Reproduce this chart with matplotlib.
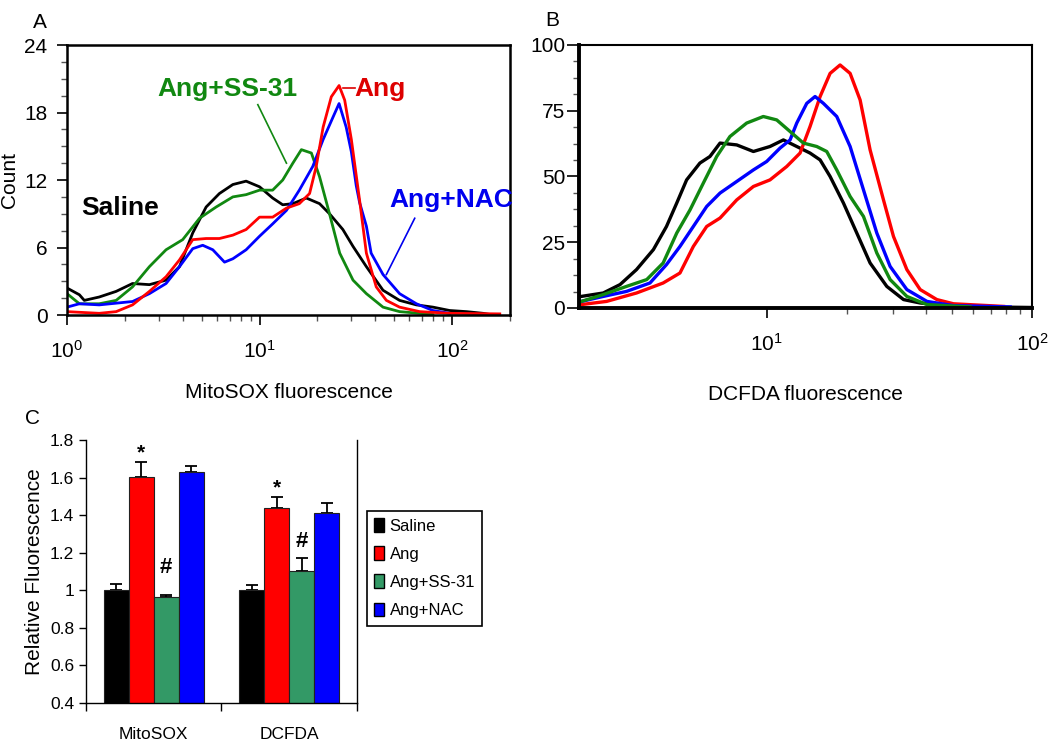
import math
import matplotlib
matplotlib.use('Agg')
import matplotlib.pyplot as plt
from matplotlib.ticker import FixedLocator, FuncFormatter, MultipleLocator, LogLocator, NullFormatter
from matplotlib.patches import Patch

plt.rcParams['font.family'] = ['Liberation Sans', 'DejaVu Sans']

# ---- panel A: MitoSOX histograms (fluorescence, count) ----
mito_saline_x = [1.0, 1.16, 1.23, 1.47, 1.8, 2.19, 2.68, 3.27, 3.84, 4.5, 5.28, 6.19, 7.27, 8.52, 10.0, 11.7,
                 13.2, 14.9, 17.5, 20.5, 23.1, 27.1, 30.6, 35.9, 43.8, 53.4, 65.3, 79.6, 97.2, 119, 145, 163]
mito_saline_y = [2.4, 1.8, 1.3, 1.6, 2.1, 2.8, 2.7, 3.1, 4.3, 7.3, 9.6, 10.8, 11.6, 11.9, 11.4, 10.4,
                 9.8, 9.9, 10.4, 9.9, 9.0, 7.6, 6.1, 4.3, 2.2, 1.3, 0.9, 0.7, 0.4, 0.3, 0.15, 0.0]
mito_ss31_x = [1.0, 1.16, 1.47, 1.8, 2.19, 2.68, 3.27, 3.99, 4.88, 5.95, 7.27, 8.52, 10.0, 11.7, 13.2,
               14.9, 16.5, 18.6, 20.5, 23.1, 26.1, 30.6, 35.9, 43.8, 53.4, 79.6]
mito_ss31_y = [1.9, 1.0, 1.0, 1.3, 2.5, 4.3, 5.8, 6.7, 8.6, 9.6, 10.5, 10.7, 11.1, 11.1, 12.0,
               13.5, 14.7, 14.4, 12.3, 9.0, 5.5, 3.1, 1.9, 0.7, 0.3, 0.05]
mito_nac_x = [1.0, 1.16, 1.47, 2.19, 2.68, 3.27, 3.84, 4.5, 5.07, 5.72, 6.58, 7.27, 8.52, 10.0, 11.7,
              13.8, 16.1, 18.9, 21.4, 24.1, 25.9, 28.2, 30.0, 31.8, 33.1, 35.9, 38.0, 43.8, 53.4, 65.3, 79.6, 97.2]
mito_nac_y = [0.7, 1.0, 0.9, 1.2, 1.9, 2.8, 4.3, 5.9, 6.2, 5.8, 4.7, 5.0, 5.8, 7.0, 8.1,
              9.3, 11.1, 13.2, 15.6, 17.6, 18.8, 16.7, 14.5, 11.5, 10.0, 7.9, 5.5, 3.6, 1.9, 1.0, 0.4, 0.15]
mito_ang_x = [1.0, 1.47, 1.8, 2.19, 2.68, 3.27, 3.84, 4.5, 5.28, 6.19, 7.27, 8.52, 10.0, 11.7, 13.8,
              16.1, 18.2, 19.7, 21.4, 23.6, 25.9, 27.7, 30.0, 33.1, 35.9, 40.4, 45.6, 53.4, 67.9, 97.2, 177]
mito_ang_y = [0.3, 0.15, 0.3, 0.9, 2.1, 3.4, 4.9, 6.7, 6.8, 6.8, 7.1, 7.6, 8.7, 8.7, 9.5,
              9.9, 10.8, 13.2, 16.7, 19.4, 20.4, 19.1, 15.6, 10.2, 5.5, 2.5, 1.3, 0.7, 0.3, 0.15, 0.1]

# ---- panel B: DCFDA histograms ----
dcf_saline_x = [2.0, 2.42, 2.8, 3.23, 3.74, 4.19, 4.58, 4.99, 5.6, 6.11, 6.67, 7.71, 8.91, 10.29, 11.56,
                12.98, 14.57, 15.9, 17.34, 19.47, 21.86, 24.54, 28.37, 32.8, 37.9, 50.6, 67.7, 98.6]
dcf_saline_y = [4.4, 5.7, 8.9, 14.6, 22.2, 31.0, 39.9, 48.7, 55.1, 57.6, 62.7, 62.0, 59.5, 61.4, 63.9,
                61.4, 58.9, 56.3, 50.0, 39.9, 28.5, 17.1, 8.2, 3.2, 1.9, 0.6, 0.4, 0.2]
dcf_ang_x = [2.0, 2.49, 3.23, 4.07, 4.71, 5.29, 5.94, 6.67, 7.71, 8.91, 10.29, 11.9, 13.36, 14.57,
             15.9, 17.34, 18.91, 20.63, 22.5, 24.54, 27.56, 30.06, 33.76, 37.9, 43.8, 50.6, 78.2]
dcf_ang_y = [1.3, 2.5, 5.7, 9.5, 13.3, 23.4, 31.0, 34.2, 41.1, 46.2, 48.7, 53.8, 58.9, 69.0,
             80.4, 89.2, 92.4, 89.2, 79.1, 60.1, 41.1, 27.2, 14.6, 7.0, 3.2, 1.6, 0.6]
dcf_nac_x = [2.0, 2.42, 2.96, 3.63, 4.19, 4.71, 5.29, 5.94, 6.67, 7.71, 8.91, 10.0, 11.23, 12.25, 12.98,
             14.16, 15.22, 16.36, 18.37, 20.63, 23.17, 26.01, 29.2, 33.76, 40.2, 50.6, 82.8]
dcf_nac_y = [2.5, 4.4, 6.3, 9.5, 16.5, 23.4, 31.0, 38.6, 43.7, 48.1, 52.5, 55.7, 60.8, 63.9, 70.3,
             77.8, 80.4, 77.8, 72.8, 61.4, 44.9, 28.5, 15.8, 7.0, 2.5, 0.9, 0.4]
dcf_ss31_x = [2.0, 2.42, 2.96, 3.53, 4.07, 4.58, 5.14, 5.77, 6.48, 7.27, 8.4, 9.71, 10.91, 12.25, 13.75,
              15.44, 16.84, 18.37, 20.63, 23.17, 26.01, 29.2, 33.76, 40.2, 58.5]
dcf_ss31_y = [2.5, 5.1, 8.2, 10.8, 17.1, 28.5, 37.3, 47.5, 57.6, 65.2, 70.3, 72.8, 71.5, 67.1, 62.7,
              61.4, 59.5, 52.5, 42.4, 34.8, 20.9, 10.8, 4.4, 1.3, 0.4]

# ---- panel C: relative fluorescence bars ----
assays = ['MitoSOX', 'DCFDA']
groups = ['Saline', 'Ang', 'Ang+SS-31', 'Ang+NAC']
means = {'Saline': [1.0, 1.0], 'Ang': [1.605, 1.437], 'Ang+SS-31': [0.962, 1.105], 'Ang+NAC': [1.629, 1.41]}
errs = {'Saline': [0.035, 0.03], 'Ang': [0.076, 0.058], 'Ang+SS-31': [0.014, 0.066], 'Ang+NAC': [0.03, 0.057]}
bar_colors = ['#000000', '#ff0000', '#339966', '#0000ff']

line_colors = {'Saline': 'black', 'Ang': '#ff0000', 'Ang+SS-31': '#118811', 'Ang+NAC': '#0000ff'}

fig = plt.figure(figsize=(10.5, 7.47), dpi=100)


def pow_fmt(v, pos):
    e = int(round(math.log10(v)))
    return r'$\mathregular{10^{%d}}$' % e


def style_hist(ax):
    ax.set_xscale('log')
    ax.tick_params(which='major', direction='out', length=7, width=1.2, labelsize=15, pad=6)
    ax.tick_params(which='minor', direction='out', length=4, width=1.0, color='#555555')
    ax.tick_params(axis='x', which='major', pad=11)
    ax.xaxis.set_major_formatter(FuncFormatter(pow_fmt))
    ax.xaxis.set_minor_formatter(NullFormatter())


# ---- A ----
axA = fig.add_axes([0.0638, 0.5783, 0.4219, 0.3614])
axA.plot(mito_saline_x, mito_saline_y, color=line_colors['Saline'], lw=2.0)
axA.plot(mito_ss31_x, mito_ss31_y, color=line_colors['Ang+SS-31'], lw=2.0)
axA.plot(mito_nac_x, mito_nac_y, color=line_colors['Ang+NAC'], lw=2.0)
axA.plot(mito_ang_x, mito_ang_y, color=line_colors['Ang'], lw=2.0)
style_hist(axA)
axA.set_xlim(1, 200)
axA.set_ylim(0, 24)
axA.yaxis.set_major_locator(FixedLocator([0, 6, 12, 18, 24]))
axA.yaxis.set_minor_locator(MultipleLocator(1.5))
axA.xaxis.set_major_locator(FixedLocator([1, 10, 100]))
axA.xaxis.set_minor_locator(LogLocator(base=10, subs=range(2, 10)))
axA.tick_params(axis='y', which='major', pad=7)
for s in axA.spines.values():
    s.set_linewidth(1.8)
axA.set_ylabel('Count', fontsize=15, labelpad=4)
axA.set_xlabel('MitoSOX fluorescence', fontsize=15, labelpad=15)

axA.text(6.84, 20.1, 'Ang+SS-31', color='#118811', fontsize=19, fontweight='bold', ha='center', va='center')
axA.plot([9.8, 13.8], [18.7, 13.5], color='#118811', lw=1.2)
axA.text(31.2, 20.1, 'Ang', color='#dd0000', fontsize=19, fontweight='bold', ha='left', va='center')
axA.plot([27.1, 31.2], [20.2, 20.2], color='#dd0000', lw=1.2)
axA.text(1.18, 9.5, 'Saline', color='black', fontsize=19, fontweight='bold', ha='left', va='center')
axA.text(47.0, 10.2, 'Ang+NAC', color='#0000ee', fontsize=19, fontweight='bold', ha='left', va='center',
         clip_on=False)
axA.plot([64, 45.6], [8.6, 3.6], color='#0000ee', lw=1.2)

# ---- B ----
axB = fig.add_axes([0.5514, 0.5877, 0.4314, 0.3521])
axB.plot(dcf_saline_x, dcf_saline_y, color=line_colors['Saline'], lw=2.4)
axB.plot(dcf_ang_x, dcf_ang_y, color=line_colors['Ang'], lw=2.4)
axB.plot(dcf_nac_x, dcf_nac_y, color=line_colors['Ang+NAC'], lw=2.4)
axB.plot(dcf_ss31_x, dcf_ss31_y, color=line_colors['Ang+SS-31'], lw=2.4)
style_hist(axB)
axB.set_xlim(1.96, 100)
axB.set_ylim(0, 100)
axB.yaxis.set_major_locator(FixedLocator([0, 25, 50, 75, 100]))
axB.yaxis.set_minor_locator(MultipleLocator(6.25))
axB.xaxis.set_major_locator(FixedLocator([10, 100]))
axB.xaxis.set_minor_locator(FixedLocator([20, 30, 40, 50, 60, 70, 80, 90]))
axB.tick_params(axis='y', which='major', length=9, pad=1)
axB.spines['left'].set_linewidth(2.8)
axB.spines['bottom'].set_linewidth(2.8)
axB.spines['top'].set_linewidth(1.5)
axB.spines['right'].set_linewidth(1.5)
axB.set_xlabel('DCFDA fluorescence', fontsize=15, labelpad=22)

# ---- C ----
axC = fig.add_axes([0.0819, 0.0589, 0.2581, 0.3521])
w = 0.184
for i, g in enumerate(groups):
    pos = [k + (i - 1.5) * w for k in range(len(assays))]
    axC.bar(pos, means[g], width=w, color=bar_colors[i], edgecolor='#222222', linewidth=0.8, zorder=2)
    axC.errorbar(pos, means[g], yerr=[[0, 0], errs[g]], fmt='none', ecolor='black', elinewidth=1.3,
                 capsize=4, capthick=1.3, zorder=1)

marks = [(0 - 0.5 * w, 1.70, '*'), (1 - 0.5 * w, 1.515, '*'), (0 + 0.5 * w, 1.09, '#'), (1 + 0.5 * w, 1.23, '#')]
for x, y, m in marks:
    axC.text(x, y, m, ha='center', va='baseline', fontsize=16 if m == '#' else 15, fontweight='bold')

axC.set_xlim(-0.5, 1.5)
axC.set_ylim(0.4, 1.8)
axC.yaxis.set_major_locator(FixedLocator([0.4, 0.6, 0.8, 1.0, 1.2, 1.4, 1.6, 1.8]))
axC.yaxis.set_major_formatter(FuncFormatter(lambda v, p: ('%g' % round(v, 1))))
axC.set_xticks([0, 1])
axC.set_xticklabels(assays)
axC.xaxis.set_minor_locator(FixedLocator([-0.5, 0.5, 1.5]))
axC.tick_params(axis='x', which='major', length=0, pad=17, labelsize=12.5)
axC.tick_params(axis='x', which='minor', length=6, direction='out', width=1.0)
axC.tick_params(axis='y', which='major', length=5, direction='out', width=1.0, labelsize=12.5)
axC.spines['top'].set_visible(False)
for s in ['left', 'bottom', 'right']:
    axC.spines[s].set_linewidth(1.0)
axC.set_ylabel('Relative Fluorescence', fontsize=15, labelpad=4)

handles = [Patch(facecolor=c, edgecolor='black', linewidth=1.0) for c in bar_colors]
leg = fig.legend(handles, groups, loc='center left', bbox_to_anchor=(0.3495, 0.2395),
                 prop={'size': 12}, frameon=True, fancybox=False, framealpha=1,
                 edgecolor='black', handlelength=0.6, handleheight=0.9, handletextpad=0.3,
                 labelspacing=0.75, borderpad=0.45, borderaxespad=0)
leg.get_frame().set_linewidth(1.2)

# panel letters
fig.text(40 / 1050, 1 - 22 / 747, 'A', fontsize=15, ha='center', va='center')
fig.text(552 / 1050, 1 - 20 / 747, 'B', fontsize=15, ha='center', va='center')
fig.text(33 / 1050, 1 - 418 / 747, 'C', fontsize=15, ha='center', va='center')

fig.savefig('out.png', dpi=100)
